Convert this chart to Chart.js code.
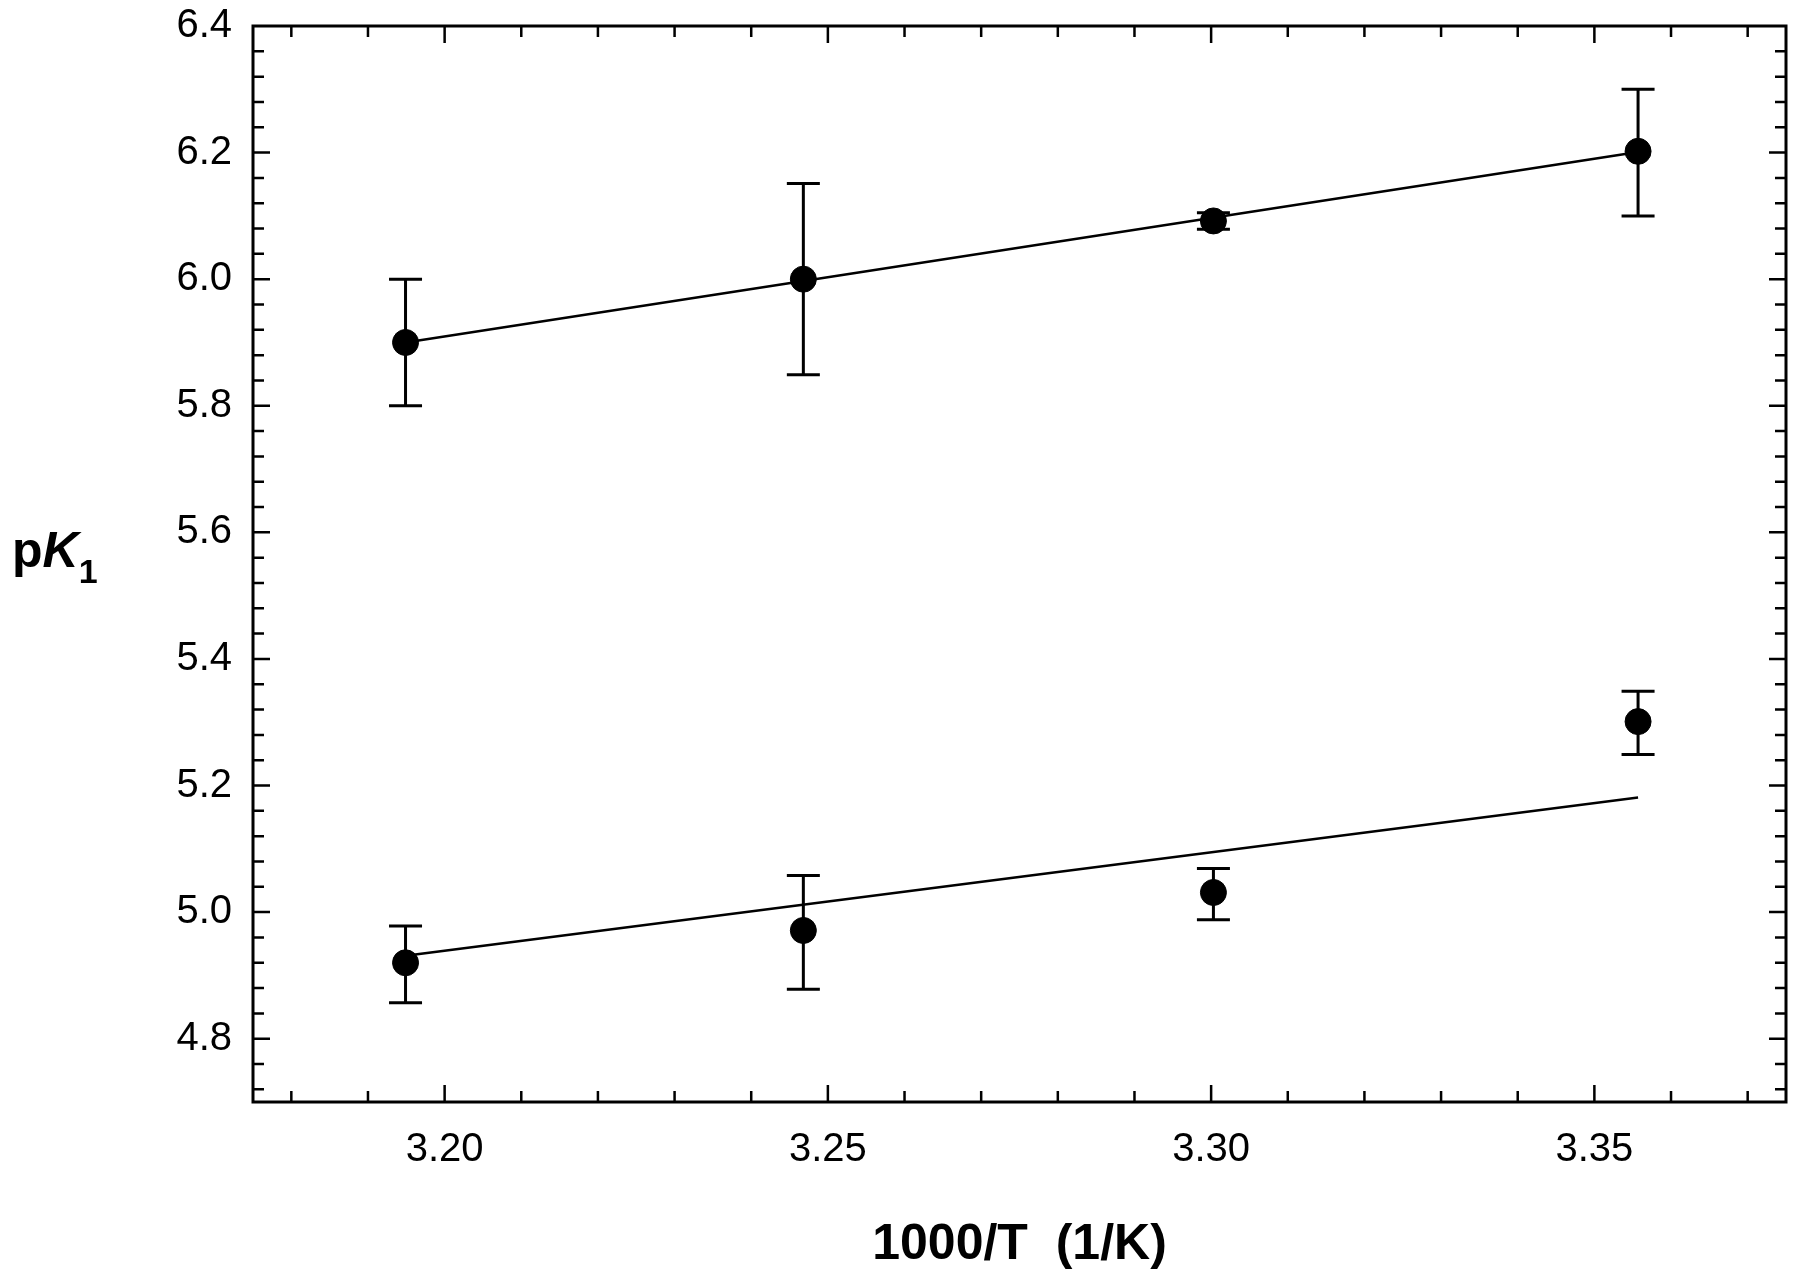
<!DOCTYPE html>
<html lang="en">
  <head>
    <meta charset="UTF-8" />
    <title>pK1 vs 1000/T</title>
    <script src="https://cdn.jsdelivr.net/npm/chart.js"></script>
    <style>
      html,
      body {
        margin: 0;
        padding: 0;
        background: #fff;
      }
      #wrap {
        width: 1800px;
        height: 1284px;
      }
    </style>
  </head>
  <body>
    <div id="wrap">
      <canvas id="chart"></canvas>
    </div>

    <script>
      // 1000/T values (1/K)
      const xValues = [3.1949, 3.2468, 3.3003, 3.3557];

      // upper set
      const upperY = [5.9, 6.0, 6.092, 6.202];
      const upperHi = [6.0, 6.151, 6.105, 6.3];
      const upperLo = [5.8, 5.849, 6.079, 6.1];

      // lower set
      const lowerY = [4.92, 4.971, 5.031, 5.301];
      const lowerHi = [4.978, 5.058, 5.069, 5.349];
      const lowerLo = [4.857, 4.878, 4.988, 5.249];

      // fitted lines (end points)
      const fitX = [3.1949, 3.3557];
      const upperFit = [5.9, 6.201];
      const lowerFit = [4.931, 5.181];

      // axis ticks
      const xTicks = [3.2, 3.25, 3.3, 3.35];
      const yTicks = [4.8, 5.0, 5.2, 5.4, 5.6, 5.8, 6.0, 6.2, 6.4];
      const xMinorStep = 0.01;
      const yMinorStep = 0.04;

      const FONT = "'Liberation Sans', Arial, sans-serif";

      const toPoints = (xs, ys) => xs.map((x, i) => ({ x: x, y: ys[i] }));

      // error bars, drawn under the markers
      const errorBars = {
        id: "errorBars",
        beforeDatasetsDraw(chart) {
          const ctx = chart.ctx;
          const xs = chart.scales.x;
          const ys = chart.scales.y;
          const sets = [
            [upperHi, upperLo],
            [lowerHi, lowerLo],
          ];
          ctx.save();
          ctx.strokeStyle = "#000";
          ctx.lineWidth = 3;
          sets.forEach(([hi, lo]) => {
            xValues.forEach((xv, i) => {
              const px = xs.getPixelForValue(xv);
              const pt = ys.getPixelForValue(hi[i]);
              const pb = ys.getPixelForValue(lo[i]);
              ctx.beginPath();
              ctx.moveTo(px, pt);
              ctx.lineTo(px, pb);
              ctx.moveTo(px - 16.5, pt);
              ctx.lineTo(px + 16.5, pt);
              ctx.moveTo(px - 16.5, pb);
              ctx.lineTo(px + 16.5, pb);
              ctx.stroke();
            });
          });
          ctx.restore();
        },
      };

      // frame with inward ticks on all four sides + y title
      const frame = {
        id: "frame",
        afterDraw(chart) {
          const ctx = chart.ctx;
          const a = chart.chartArea;
          const xs = chart.scales.x;
          const ys = chart.scales.y;
          const major = 17;
          const minor = 11;
          ctx.save();
          ctx.strokeStyle = "#000";
          ctx.lineWidth = 3;
          ctx.strokeRect(a.left, a.top, a.right - a.left, a.bottom - a.top);
          ctx.lineWidth = 2.5;
          ctx.beginPath();
          // x ticks
          const nx = Math.round((xs.max - xs.min) / xMinorStep);
          const x0 = Math.ceil(xs.min / xMinorStep - 1e-6) * xMinorStep;
          for (let k = 0; k <= nx; k++) {
            const v = +(x0 + k * xMinorStep).toFixed(4);
            if (v > xs.max) break;
            const isMajor = xTicks.some((t) => Math.abs(t - v) < 1e-6);
            const len = isMajor ? major : minor;
            const p = xs.getPixelForValue(v);
            ctx.moveTo(p, a.bottom);
            ctx.lineTo(p, a.bottom - len);
            ctx.moveTo(p, a.top);
            ctx.lineTo(p, a.top + len);
          }
          // y ticks
          const ny = Math.round((ys.max - ys.min) / yMinorStep);
          const y0 = Math.ceil(ys.min / yMinorStep - 1e-6) * yMinorStep;
          for (let k = 0; k <= ny + 1; k++) {
            const v = +(y0 + k * yMinorStep).toFixed(4);
            if (v >= ys.max - 1e-6) break;
            const isMajor = yTicks.some((t) => Math.abs(t - v) < 1e-6);
            const len = isMajor ? major : minor;
            const p = ys.getPixelForValue(v);
            ctx.moveTo(a.left, p);
            ctx.lineTo(a.left + len, p);
            ctx.moveTo(a.right, p);
            ctx.lineTo(a.right - len, p);
          }
          ctx.stroke();

          // y title: p K(italic) subscript 1
          ctx.fillStyle = "#000";
          ctx.textBaseline = "alphabetic";
          ctx.textAlign = "left";
          let x = 12;
          const base = 567;
          ctx.font = "bold 50px " + FONT;
          ctx.fillText("p", x, base);
          x += ctx.measureText("p").width;
          ctx.font = "italic bold 50px " + FONT;
          ctx.fillText("K", x, base);
          x += ctx.measureText("K").width;
          ctx.font = "bold 34px " + FONT;
          ctx.fillText("1", x, base + 16);
          ctx.restore();
        },
      };

      const ctx = document.getElementById("chart").getContext("2d");

      new Chart(ctx, {
        type: "scatter",
        data: {
          datasets: [
            {
              data: toPoints(fitX, upperFit),
              showLine: true,
              borderColor: "#000",
              borderWidth: 2.5,
              pointRadius: 0,
            },
            {
              data: toPoints(fitX, lowerFit),
              showLine: true,
              borderColor: "#000",
              borderWidth: 2.5,
              pointRadius: 0,
            },
            {
              data: toPoints(xValues, upperY),
              backgroundColor: "#000",
              borderColor: "#000",
              pointRadius: 13,
              borderWidth: 1,
            },
            {
              data: toPoints(xValues, lowerY),
              backgroundColor: "#000",
              borderColor: "#000",
              pointRadius: 13,
              borderWidth: 1,
            },
          ],
        },
        options: {
          responsive: true,
          maintainAspectRatio: false,
          animation: false,
          layout: {
            padding: { left: 0, top: 26, right: 12, bottom: 0 },
          },
          plugins: {
            legend: { display: false },
            tooltip: { enabled: false },
          },
          scales: {
            x: {
              type: "linear",
              min: 3.175,
              max: 3.375,
              grid: { display: false, drawTicks: false },
              border: { display: false },
              afterBuildTicks: (scale) => {
                scale.ticks = xTicks.map((v) => ({ value: v }));
              },
              afterFit: (scale) => {
                scale.height = 182;
                scale.paddingLeft = 0;
                scale.paddingRight = 0;
              },
              ticks: {
                color: "#000",
                padding: 24,
                font: { family: FONT, size: 40 },
                callback: (v) => Number(v).toFixed(2),
              },
              title: {
                display: true,
                text: "1000/T  (1/K)",
                color: "#000",
                font: { family: FONT, size: 50, weight: "bold" },
                padding: { top: 0, bottom: 9 },
              },
            },
            y: {
              type: "linear",
              min: 4.7,
              max: 6.4,
              grid: { display: false, drawTicks: false },
              border: { display: false },
              afterBuildTicks: (scale) => {
                scale.ticks = yTicks.map((v) => ({ value: v }));
              },
              afterFit: (scale) => {
                scale.width = 253;
                scale.paddingTop = 0;
                scale.paddingBottom = 0;
              },
              ticks: {
                color: "#000",
                padding: 21,
                font: { family: FONT, size: 40 },
                callback: (v) => Number(v).toFixed(1),
              },
            },
          },
        },
        plugins: [errorBars, frame],
      });
    </script>
  </body>
</html>
